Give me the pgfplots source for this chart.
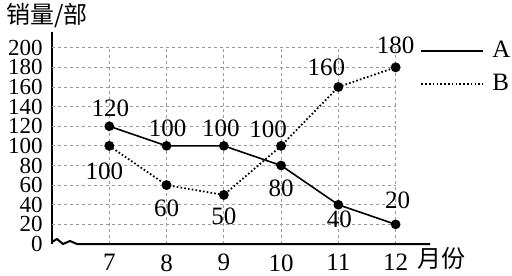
\documentclass[border=0pt]{standalone}
\usepackage{fontspec}
\setmainfont{Liberation Serif}
\newfontfamily\cjk{Noto Sans CJK SC}
\usepackage{pgfplots}
\usepackage{pgfplotstable}
\pgfplotsset{compat=1.18}

\pgfplotstableread{
x y
7 120
8 100
9 100
10 80
11 40
12 20
}\dataA
\pgfplotstableread{
x y
7 100
8 60
9 50
10 100
11 160
12 180
}\dataB
\pgfplotstableread{
x y dx dy
7 120 0.5 9
8 100 0.5 9
9 100 -1.5 9
10 80 0 -11.5
11 40 0.5 -7.5
12 20 1 12
}\labA
\pgfplotstableread{
x y dx dy
7 100 -2.5 -12.5
8 60 0 -11.5
9 50 0 -10.5
10 100 -6.5 8.5
11 160 -6 10
12 180 0 11
}\labB

\begin{document}
\begin{tikzpicture}
\begin{axis}[
  scale only axis,
  width=189pt, height=106pt,
  xmin=6, xmax=12.6, ymin=0, ymax=216,
  axis y line*=left,
  axis x line*=bottom,
  x axis line style={draw=none},
  y axis line style={line width=1pt},
  xtick={7,8,9,10,11,12},
  ytick={0,20,...,200},
  major tick length=0pt,
  xticklabel style={font=\fontsize{12.5}{12}\selectfont, inner sep=0pt, yshift=-5pt},
  /pgf/number format/assume math mode=true,
  yticklabel style={font=\fontsize{11.5}{11}\selectfont, inner sep=0pt, xshift=-4.5pt},
  legend style={at={(0.974,0.833)}, anchor=west, draw=none, fill=none,
    inner sep=0pt, row sep=7pt, font=\fontsize{12.5}{12}\selectfont,
    nodes={inner sep=0pt}, /tikz/column sep=4pt},
  legend cell align=left,
  legend image code/.code={\draw[#1] (0pt,0pt) -- (31pt,0pt);},
  clip=false,
]
\pgfplotsinvokeforeach{20,40,...,200}{
  \draw[gray!80, dash pattern=on 1.6pt off 1.4pt, line width=0.45pt] (axis cs:6,#1) -- (axis cs:12,#1);
}
\pgfplotsinvokeforeach{7,8,...,12}{
  \draw[gray!80, dash pattern=on 1.6pt off 1.4pt, line width=0.45pt] (axis cs:#1,0) -- (axis cs:#1,200);
}
\addplot[black, line width=0.8pt, mark=*, mark size=2pt, mark options={solid}] table[x=x,y=y] {\dataA};
\addlegendentry{A}
\addplot[black, line width=0.9pt, dash pattern=on 0.8pt off 1.1pt, mark=*, mark size=2pt, mark options={solid}] table[x=x,y=y] {\dataB};
\addlegendentry{B}
\addplot[draw=none, mark=none, nodes near coords,
  visualization depends on={\thisrow{dx} \as \dx},
  visualization depends on={\thisrow{dy} \as \dy},
  every node near coord/.append style={anchor=center, inner sep=0pt, xshift=\dx pt, yshift=\dy pt, font=\fontsize{12.5}{12}\selectfont},
  forget plot] table[x=x,y=y] {\labA};
\addplot[draw=none, mark=none, nodes near coords,
  visualization depends on={\thisrow{dx} \as \dx},
  visualization depends on={\thisrow{dy} \as \dy},
  every node near coord/.append style={anchor=center, inner sep=0pt, xshift=\dx pt, yshift=\dy pt, font=\fontsize{12.5}{12}\selectfont},
  forget plot] table[x=x,y=y] {\labB};
\end{axis}
% x axis with break symbol
\draw[line width=1pt, line join=round] (0,1pt) -- (2.5pt,2.5pt) -- (5.5pt,0pt) -- (9pt,1.5pt) -- (12.5pt,0pt) -- (189pt,0pt);
\node[font={\cjk\fontsize{12}{12}\selectfont}] at (-2.5pt,114pt) {销量/部};
\node[font={\cjk\fontsize{12}{12}\selectfont}] at (194.5pt,-7pt) {月份};
\pgfresetboundingbox
\path[use as bounding box] (-26pt,-15.5pt) rectangle (230pt,122pt);
\end{tikzpicture}
\end{document}
